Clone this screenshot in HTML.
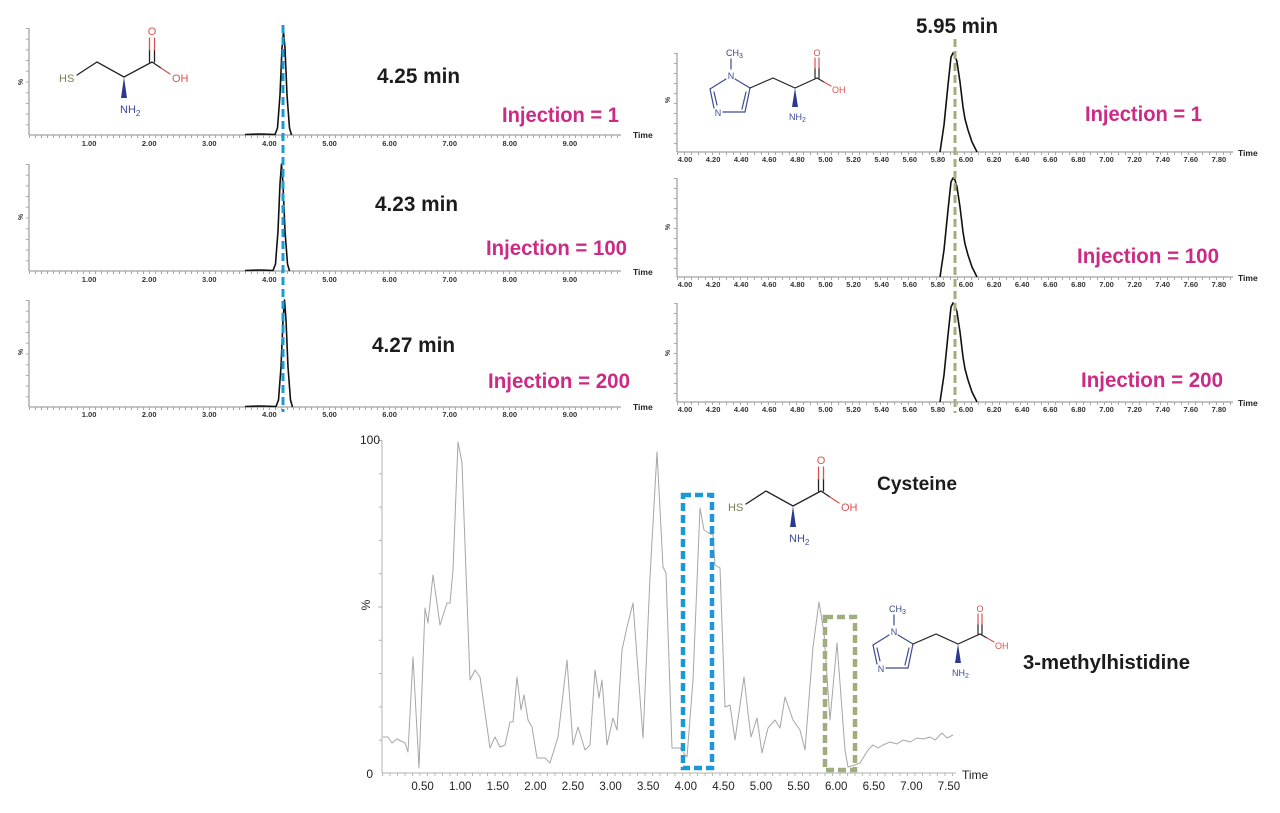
<!DOCTYPE html>
<html><head><meta charset="utf-8"><style>
html,body{margin:0;padding:0;background:#fff;}
svg{display:block;}
text{font-family:"Liberation Sans",Arial,sans-serif;}
</style></head><body>
<svg width="1280" height="813" viewBox="0 0 1280 813" xmlns="http://www.w3.org/2000/svg">
<rect width="1280" height="813" fill="#fff"/>

<!-- ============ TOP-LEFT PANELS ============ -->
<g id="lp">
  <!-- axes panel 1 -->
  <g stroke="#8a8a8a" stroke-width="1" fill="none">
    <line x1="29" y1="28" x2="29" y2="135"/><line x1="29" y1="135" x2="621" y2="135"/>
    <line x1="29" y1="164" x2="29" y2="271"/><line x1="29" y1="271" x2="621" y2="271"/>
    <line x1="29" y1="300" x2="29" y2="407"/><line x1="29" y1="407" x2="621" y2="407"/>
  </g>
  <g stroke="#a8a8a8" stroke-width="3" stroke-dasharray="1 5" fill="none">
    <line x1="29" y1="136.5" x2="621" y2="136.5"/>
    <line x1="29" y1="272.5" x2="621" y2="272.5"/>
    <line x1="29" y1="408.5" x2="621" y2="408.5"/>
    <line x1="27.5" y1="28" x2="27.5" y2="135" stroke-dasharray="1 9.7"/>
    <line x1="27.5" y1="164" x2="27.5" y2="271" stroke-dasharray="1 9.7"/>
    <line x1="27.5" y1="300" x2="27.5" y2="407" stroke-dasharray="1 9.7"/>
  </g>
  <g font-size="7.5" font-weight="bold" fill="#333" text-anchor="middle">
    <text x="89.1" y="146">1.00</text><text x="149.2" y="146">2.00</text><text x="209.3" y="146">3.00</text><text x="269.4" y="146">4.00</text><text x="329.5" y="146">5.00</text><text x="389.6" y="146">6.00</text><text x="449.7" y="146">7.00</text><text x="509.8" y="146">8.00</text><text x="569.9" y="146">9.00</text>
    <text x="89.1" y="282">1.00</text><text x="149.2" y="282">2.00</text><text x="209.3" y="282">3.00</text><text x="269.4" y="282">4.00</text><text x="329.5" y="282">5.00</text><text x="389.6" y="282">6.00</text><text x="449.7" y="282">7.00</text><text x="509.8" y="282">8.00</text><text x="569.9" y="282">9.00</text>
    <text x="89.1" y="417">1.00</text><text x="149.2" y="417">2.00</text><text x="209.3" y="417">3.00</text><text x="269.4" y="417">4.00</text><text x="329.5" y="417">5.00</text><text x="389.6" y="417">6.00</text><text x="449.7" y="417">7.00</text><text x="509.8" y="417">8.00</text><text x="569.9" y="417">9.00</text>
  </g>
  <g font-size="8.5" font-weight="bold" fill="#222">
    <text x="633" y="138">Time</text><text x="633" y="275">Time</text><text x="633" y="410">Time</text>
  </g>
  <g font-size="7" font-weight="bold" fill="#333" text-anchor="middle">
    <text transform="translate(23,82) rotate(-90)">%</text>
    <text transform="translate(23,217) rotate(-90)">%</text>
    <text transform="translate(23,352) rotate(-90)">%</text>
  </g>
  <!-- traces -->
  <g stroke="#111" stroke-width="1.6" fill="none" stroke-linejoin="round">
    <polyline points="245,134.5 262,134 275,134.5 277.5,128 280,95 282,48 283.5,32 285,48 287,95 289.5,128 291.5,135"/>
    <polyline points="245,270.5 262,270 273,270.5 275.5,264 278,231 280,184 281.5,164 283,184 285,231 287.5,264 289.5,271"/>
    <polyline points="245,406.5 262,406 276,406.5 278.5,400 281,367 283,320 284.5,300 286,320 288,367 290.5,400 292.5,407"/>
  </g>
  <!-- blue dashed marker -->
  <line x1="283" y1="25" x2="283" y2="412" stroke="#1d9ad6" stroke-width="3" stroke-dasharray="8 4"/>
  <!-- labels -->
  <g font-size="21" font-weight="bold" fill="#1c1c1c">
    <text x="377" y="83" textLength="83" lengthAdjust="spacingAndGlyphs">4.25 min</text>
    <text x="375" y="211" textLength="83" lengthAdjust="spacingAndGlyphs">4.23 min</text>
    <text x="372" y="352" textLength="83" lengthAdjust="spacingAndGlyphs">4.27 min</text>
  </g>
  <g font-size="21" font-weight="bold" fill="#cc2a84">
    <text x="502" y="122" textLength="117" lengthAdjust="spacingAndGlyphs">Injection = 1</text>
    <text x="486" y="255" textLength="141" lengthAdjust="spacingAndGlyphs">Injection = 100</text>
    <text x="488" y="388" textLength="142" lengthAdjust="spacingAndGlyphs">Injection = 200</text>
  </g>
</g>

<!-- cysteine molecule (top-left) -->
<g id="cys">
  <g stroke="#222" stroke-width="1.3" fill="none" stroke-linecap="round">
    <polyline points="77,75 97,62 124,77 152,62"/>
    <line x1="152" y1="62" x2="161" y2="68"/>
    <line x1="161" y1="68" x2="170" y2="74" stroke="#d9534f"/>
    <line x1="149.5" y1="62" x2="149.5" y2="50"/><line x1="154.5" y1="62" x2="154.5" y2="50"/>
    <line x1="149.5" y1="50" x2="149.5" y2="38" stroke="#d9534f"/><line x1="154.5" y1="50" x2="154.5" y2="38" stroke="#d9534f"/>
  </g>
  <polygon points="124,77 121,98 127,98" fill="#2b3a8c"/>
  <text x="59" y="82" font-size="11" fill="#7d7d55">HS</text>
  <text x="152" y="35" font-size="11" fill="#d9534f" text-anchor="middle">O</text>
  <text x="172" y="82" font-size="11" fill="#d9534f">OH</text>
  <text x="120" y="113" font-size="11" fill="#3b4a9c">NH<tspan font-size="8" dy="3">2</tspan></text>
</g>
<g transform="translate(669,429)">
  <g stroke="#222" stroke-width="1.3" fill="none" stroke-linecap="round">
    <polyline points="77,75 97,62 124,77 152,62"/>
    <line x1="152" y1="62" x2="161" y2="68"/>
    <line x1="161" y1="68" x2="170" y2="74" stroke="#d9534f"/>
    <line x1="149.5" y1="62" x2="149.5" y2="50"/><line x1="154.5" y1="62" x2="154.5" y2="50"/>
    <line x1="149.5" y1="50" x2="149.5" y2="38" stroke="#d9534f"/><line x1="154.5" y1="50" x2="154.5" y2="38" stroke="#d9534f"/>
  </g>
  <polygon points="124,77 121,98 127,98" fill="#2b3a8c"/>
  <text x="59" y="82" font-size="11" fill="#7d7d55">HS</text>
  <text x="152" y="35" font-size="11" fill="#d9534f" text-anchor="middle">O</text>
  <text x="172" y="82" font-size="11" fill="#d9534f">OH</text>
  <text x="120" y="113" font-size="11" fill="#3b4a9c">NH<tspan font-size="8" dy="3">2</tspan></text>
</g>

<!-- ============ TOP-RIGHT PANELS ============ -->
<g id="rp">
  <g stroke="#8a8a8a" stroke-width="1" fill="none">
    <line x1="677" y1="53" x2="677" y2="152"/><line x1="677" y1="152" x2="1233" y2="152"/>
    <line x1="677" y1="178" x2="677" y2="277"/><line x1="677" y1="277" x2="1233" y2="277"/>
    <line x1="677" y1="303" x2="677" y2="402"/><line x1="677" y1="402" x2="1233" y2="402"/>
  </g>
  <g stroke="#a8a8a8" stroke-width="3" stroke-dasharray="1 6" fill="none">
    <line x1="677" y1="153.5" x2="1233" y2="153.5"/>
    <line x1="677" y1="278.5" x2="1233" y2="278.5"/>
    <line x1="677" y1="403.5" x2="1233" y2="403.5"/>
    <line x1="675.5" y1="53" x2="675.5" y2="152" stroke-dasharray="1 9"/>
    <line x1="675.5" y1="178" x2="675.5" y2="277" stroke-dasharray="1 9"/>
    <line x1="675.5" y1="303" x2="675.5" y2="402" stroke-dasharray="1 9"/>
  </g>
  <g font-size="7.5" font-weight="bold" fill="#333" text-anchor="middle">
    <text x="685" y="162">4.00</text><text x="713.1" y="162">4.20</text><text x="741.2" y="162">4.40</text><text x="769.3" y="162">4.60</text><text x="797.4" y="162">4.80</text><text x="825.5" y="162">5.00</text><text x="853.6" y="162">5.20</text><text x="881.7" y="162">5.40</text><text x="909.8" y="162">5.60</text><text x="937.9" y="162">5.80</text><text x="966" y="162">6.00</text><text x="994.1" y="162">6.20</text><text x="1022.2" y="162">6.40</text><text x="1050.3" y="162">6.60</text><text x="1078.4" y="162">6.80</text><text x="1106.5" y="162">7.00</text><text x="1134.6" y="162">7.20</text><text x="1162.7" y="162">7.40</text><text x="1190.8" y="162">7.60</text><text x="1218.9" y="162">7.80</text>
    <text x="685" y="287">4.00</text><text x="713.1" y="287">4.20</text><text x="741.2" y="287">4.40</text><text x="769.3" y="287">4.60</text><text x="797.4" y="287">4.80</text><text x="825.5" y="287">5.00</text><text x="853.6" y="287">5.20</text><text x="881.7" y="287">5.40</text><text x="909.8" y="287">5.60</text><text x="937.9" y="287">5.80</text><text x="966" y="287">6.00</text><text x="994.1" y="287">6.20</text><text x="1022.2" y="287">6.40</text><text x="1050.3" y="287">6.60</text><text x="1078.4" y="287">6.80</text><text x="1106.5" y="287">7.00</text><text x="1134.6" y="287">7.20</text><text x="1162.7" y="287">7.40</text><text x="1190.8" y="287">7.60</text><text x="1218.9" y="287">7.80</text>
    <text x="685" y="412">4.00</text><text x="713.1" y="412">4.20</text><text x="741.2" y="412">4.40</text><text x="769.3" y="412">4.60</text><text x="797.4" y="412">4.80</text><text x="825.5" y="412">5.00</text><text x="853.6" y="412">5.20</text><text x="881.7" y="412">5.40</text><text x="909.8" y="412">5.60</text><text x="937.9" y="412">5.80</text><text x="966" y="412">6.00</text><text x="994.1" y="412">6.20</text><text x="1022.2" y="412">6.40</text><text x="1050.3" y="412">6.60</text><text x="1078.4" y="412">6.80</text><text x="1106.5" y="412">7.00</text><text x="1134.6" y="412">7.20</text><text x="1162.7" y="412">7.40</text><text x="1190.8" y="412">7.60</text><text x="1218.9" y="412">7.80</text>
  </g>
  <g font-size="8.5" font-weight="bold" fill="#222">
    <text x="1238" y="156">Time</text><text x="1238" y="281">Time</text><text x="1238" y="406">Time</text>
  </g>
  <g font-size="7" font-weight="bold" fill="#333" text-anchor="middle">
    <text transform="translate(670,100) rotate(-90)">%</text>
    <text transform="translate(670,227) rotate(-90)">%</text>
    <text transform="translate(670,353) rotate(-90)">%</text>
  </g>
  <g stroke="#111" stroke-width="1.6" fill="none" stroke-linejoin="round">
    <polyline points="940,152 944,125 948,85 951,57 953,53 955,55 957,62 960,82 963,107 965,119 968,130 972,142 977,152"/>
    <polyline points="940,277 944,250 948,210 951,182 953,178 955,180 957,187 960,207 963,232 965,244 968,255 972,267 977,277"/>
    <polyline points="940,402 944,375 948,335 951,307 953,303 955,305 957,312 960,332 963,357 965,369 968,380 972,392 977,402"/>
  </g>
  <line x1="955" y1="39" x2="955" y2="413" stroke="#a2ae80" stroke-width="3" stroke-dasharray="8 4"/>
  <text x="916" y="33" font-size="21" font-weight="bold" fill="#1c1c1c" textLength="82" lengthAdjust="spacingAndGlyphs">5.95 min</text>
  <g font-size="21" font-weight="bold" fill="#cc2a84">
    <text x="1085" y="121" textLength="117" lengthAdjust="spacingAndGlyphs">Injection = 1</text>
    <text x="1077" y="263" textLength="142" lengthAdjust="spacingAndGlyphs">Injection = 100</text>
    <text x="1081" y="387" textLength="142" lengthAdjust="spacingAndGlyphs">Injection = 200</text>
  </g>
</g>

<!-- 3-methylhistidine (top-right) -->
<g id="mh">
  <g stroke="#3d4b8f" stroke-width="1.2" fill="none" stroke-linecap="round">
    <line x1="731" y1="59" x2="731" y2="69"/>
    <line x1="735" y1="79" x2="750" y2="88"/>
    <line x1="750" y1="88" x2="745" y2="112"/>
    <line x1="746" y1="92" x2="742" y2="109"/>
    <line x1="745" y1="112" x2="723" y2="112"/>
    <line x1="714" y1="108" x2="710" y2="89"/>
    <line x1="717" y1="105" x2="714" y2="92"/>
    <line x1="710" y1="89" x2="726" y2="79"/>
  </g>
  <g stroke="#222" stroke-width="1.2" fill="none" stroke-linecap="round">
    <polyline points="750,88 773,78 795,88 817,78"/>
    <line x1="817" y1="78" x2="824" y2="82"/>
    <line x1="824" y1="82" x2="831" y2="86" stroke="#d9534f"/>
    <line x1="815" y1="78" x2="815" y2="68"/><line x1="819" y1="78" x2="819" y2="68"/>
    <line x1="815" y1="68" x2="815" y2="58" stroke="#d9534f"/><line x1="819" y1="68" x2="819" y2="58" stroke="#d9534f"/>
  </g>
  <polygon points="795,88 792,107 798,107" fill="#2b3a8c"/>
  <text x="726" y="56" font-size="9" fill="#3a4580">CH<tspan font-size="7" dy="2">3</tspan></text>
  <text x="731" y="79" font-size="9" fill="#3d4b9c" text-anchor="middle">N</text>
  <text x="718" y="116" font-size="9" fill="#3d4b9c" text-anchor="middle">N</text>
  <text x="817" y="56" font-size="9" fill="#d9534f" text-anchor="middle">O</text>
  <text x="832" y="93" font-size="9" fill="#d9534f">OH</text>
  <text x="789" y="120" font-size="9" fill="#3b4a9c">NH<tspan font-size="7" dy="2">2</tspan></text>
</g>
<g transform="translate(163,556)">
  <g stroke="#3d4b8f" stroke-width="1.2" fill="none" stroke-linecap="round">
    <line x1="731" y1="59" x2="731" y2="69"/>
    <line x1="735" y1="79" x2="750" y2="88"/>
    <line x1="750" y1="88" x2="745" y2="112"/>
    <line x1="746" y1="92" x2="742" y2="109"/>
    <line x1="745" y1="112" x2="723" y2="112"/>
    <line x1="714" y1="108" x2="710" y2="89"/>
    <line x1="717" y1="105" x2="714" y2="92"/>
    <line x1="710" y1="89" x2="726" y2="79"/>
  </g>
  <g stroke="#222" stroke-width="1.2" fill="none" stroke-linecap="round">
    <polyline points="750,88 773,78 795,88 817,78"/>
    <line x1="817" y1="78" x2="824" y2="82"/>
    <line x1="824" y1="82" x2="831" y2="86" stroke="#d9534f"/>
    <line x1="815" y1="78" x2="815" y2="68"/><line x1="819" y1="78" x2="819" y2="68"/>
    <line x1="815" y1="68" x2="815" y2="58" stroke="#d9534f"/><line x1="819" y1="68" x2="819" y2="58" stroke="#d9534f"/>
  </g>
  <polygon points="795,88 792,107 798,107" fill="#2b3a8c"/>
  <text x="726" y="56" font-size="9" fill="#3a4580">CH<tspan font-size="7" dy="2">3</tspan></text>
  <text x="731" y="79" font-size="9" fill="#3d4b9c" text-anchor="middle">N</text>
  <text x="718" y="116" font-size="9" fill="#3d4b9c" text-anchor="middle">N</text>
  <text x="817" y="56" font-size="9" fill="#d9534f" text-anchor="middle">O</text>
  <text x="832" y="93" font-size="9" fill="#d9534f">OH</text>
  <text x="789" y="120" font-size="9" fill="#3b4a9c">NH<tspan font-size="7" dy="2">2</tspan></text>
</g>

<!-- ============ BOTTOM CHART ============ -->
<g id="bottom">
  <g stroke="#b0b0b0" stroke-width="1" fill="none">
    <line x1="382" y1="440" x2="382" y2="773"/>
    <line x1="382" y1="773" x2="956" y2="773"/>
  </g>
  <g stroke="#b8b8b8" fill="none">
    <line x1="382" y1="774.5" x2="956" y2="774.5" stroke-width="3" stroke-dasharray="1 6.5"/>
    <line x1="379" y1="440" x2="379" y2="774" stroke-width="1" stroke-dasharray="0" stroke="none"/>
  </g>
  <g stroke="#b0b0b0" stroke-width="1">
    <line x1="378" y1="440.5" x2="382" y2="440.5"/><line x1="379" y1="473.8" x2="382" y2="473.8"/><line x1="379" y1="507.1" x2="382" y2="507.1"/><line x1="379" y1="540.4" x2="382" y2="540.4"/><line x1="379" y1="573.7" x2="382" y2="573.7"/><line x1="378" y1="607" x2="382" y2="607"/><line x1="379" y1="640.3" x2="382" y2="640.3"/><line x1="379" y1="673.6" x2="382" y2="673.6"/><line x1="379" y1="706.9" x2="382" y2="706.9"/><line x1="379" y1="740.2" x2="382" y2="740.2"/>
  </g>
  <g font-size="12" fill="#222">
    <text x="380" y="444" text-anchor="end">100</text>
    <text x="373" y="778" text-anchor="end">0</text>
    <text transform="translate(370,605) rotate(-90)" text-anchor="middle">%</text>
    <text x="962" y="779">Time</text>
  </g>
  <g font-size="11.5" fill="#222" text-anchor="middle">
    <text x="422.6" y="790">0.50</text><text x="460.2" y="790">1.00</text><text x="497.8" y="790">1.50</text><text x="535.4" y="790">2.00</text><text x="573" y="790">2.50</text><text x="610.6" y="790">3.00</text><text x="648.2" y="790">3.50</text><text x="685.8" y="790">4.00</text><text x="723.4" y="790">4.50</text><text x="761" y="790">5.00</text><text x="798.6" y="790">5.50</text><text x="836.2" y="790">6.00</text><text x="873.8" y="790">6.50</text><text x="911.4" y="790">7.00</text><text x="949" y="790">7.50</text>
  </g>
  <polyline fill="none" stroke="#a6a6a6" stroke-width="1" stroke-linejoin="round" points="383,737 388,737 392,743 397,739 405,743 408,752 413,657 419,768 425,608 428,623 433,575 440,625 447,603 450,603 453,570 458,442 462,463 470,680 475,670 480,677 490,748 495,737 500,747 505,745 510,722 513,722 517,677 521,710 524,695 528,720 532,727 537,758 545,758 550,763 558,737 567,660 573,745 578,727 585,750 590,745 595,670 599,698 602,680 607,745 613,718 617,730 622,650 627,627 633,603 643,738 650,577 657,452 663,567 666,573 672,748 680,748 687,757 693,680 700,508 704,530 709,533 713,535 715,565 720,568 725,707 730,705 735,740 744,677 748,713 751,737 757,718 762,753 768,728 775,720 780,728 785,697 793,720 800,730 805,750 813,647 819,602 824,633 830,720 837,643 845,750 848,767 855,765 860,763 868,750 873,745 878,748 883,745 890,742 897,744 903,740 910,742 917,738 923,739 930,737 935,740 942,733 947,738 953,735"/>
  <rect x="683" y="495" width="29" height="273" fill="none" stroke="#1a98d8" stroke-width="4.5" stroke-dasharray="8 4"/>
  <rect x="825" y="617" width="30" height="153" fill="none" stroke="#9fae7f" stroke-width="4.5" stroke-dasharray="8 4"/>
  <text x="877" y="490" font-size="19" font-weight="bold" fill="#1c1c1c" textLength="80" lengthAdjust="spacingAndGlyphs">Cysteine</text>
  <text x="1023" y="669" font-size="20" font-weight="bold" fill="#1c1c1c" textLength="167" lengthAdjust="spacingAndGlyphs">3-methylhistidine</text>
</g>
</svg>
</body></html>
